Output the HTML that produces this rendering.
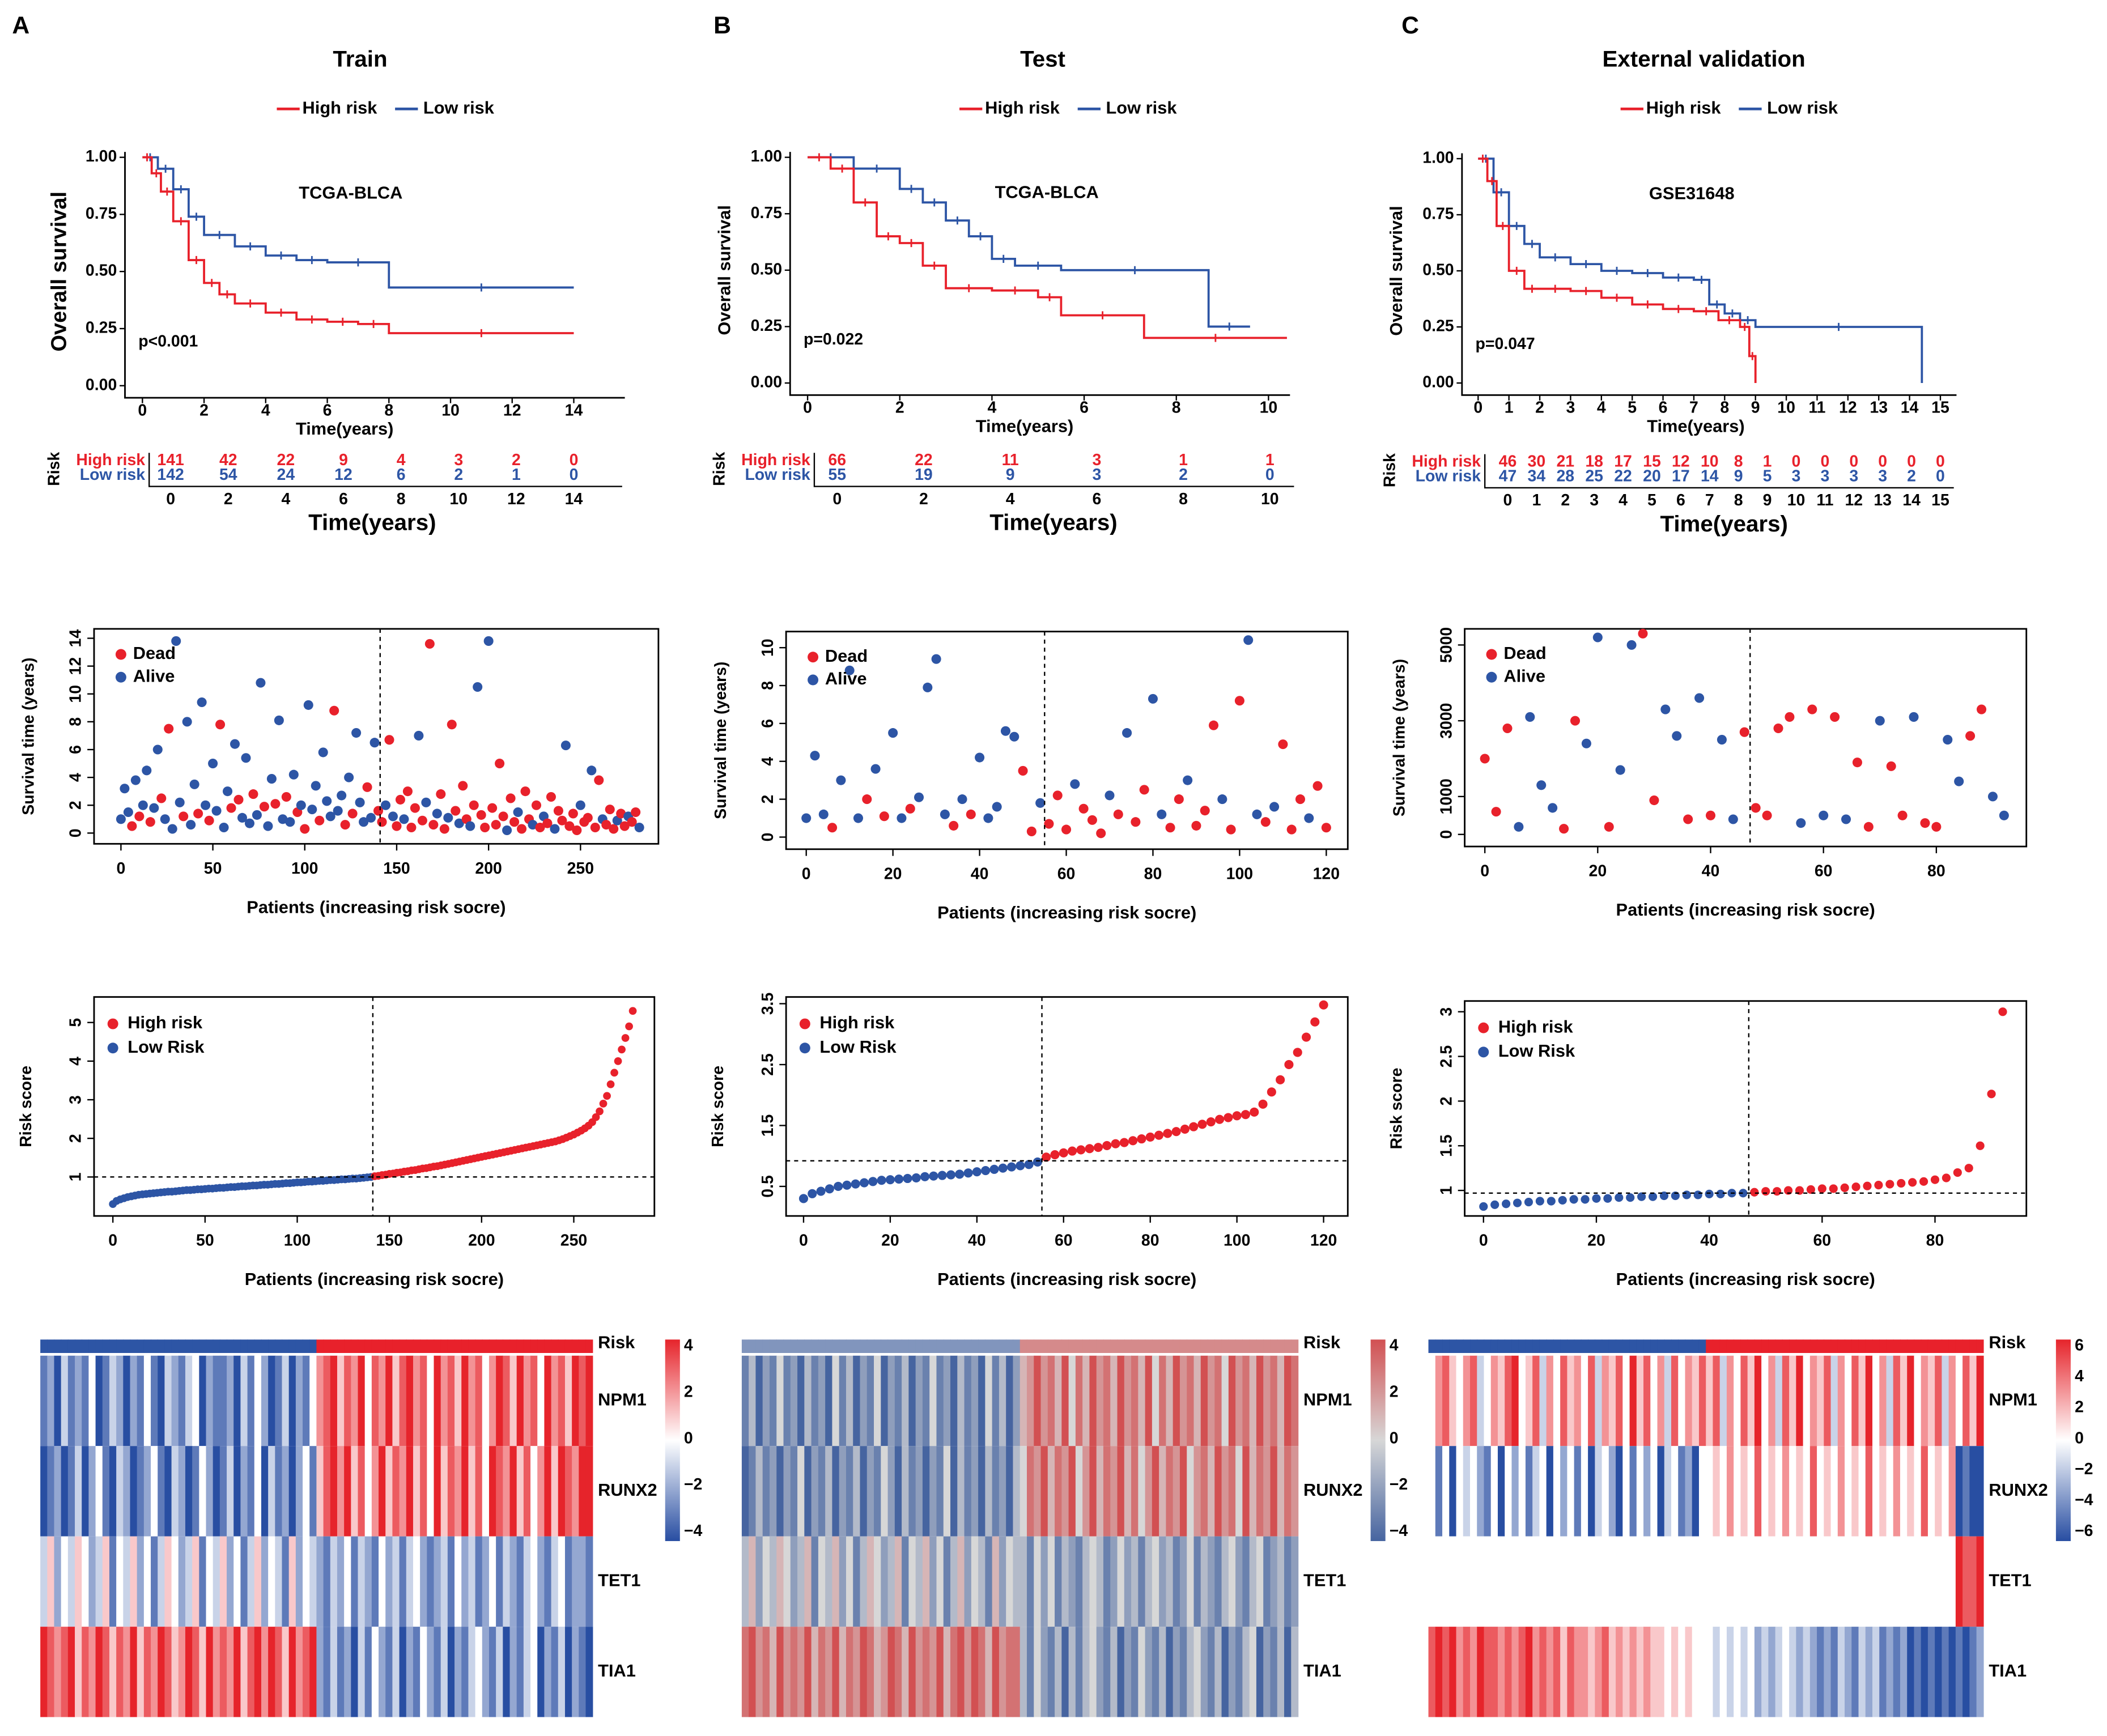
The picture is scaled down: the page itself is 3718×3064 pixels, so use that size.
<!DOCTYPE html>
<html><head><meta charset="utf-8"><style>
html,body{margin:0;padding:0;background:#fff}
svg{display:block;font-family:"Liberation Sans",Arial,sans-serif}
text{font-weight:bold}
</style></head><body>
<svg id="fig" width="3718" height="3064" viewBox="0 0 1568 1292" xmlns="http://www.w3.org/2000/svg"></svg>
<script>
// ===== DATA =====
const kmAHighT=[0,0.3,0.6,1,1.5,2,2.5,3,4,5,6,7,8,14], kmAHighS=[1,0.93,0.85,0.72,0.55,0.45,0.40,0.36,0.32,0.29,0.28,0.27,0.23,0.23];
const kmALowT=[0,0.5,1,1.5,2,3,4,5,6,8,14], kmALowS=[1,0.95,0.86,0.74,0.66,0.61,0.57,0.55,0.54,0.43,0.43];
const kmBHighT=[0,0.5,1,1.5,2,2.5,3,4,5,5.5,7.3,10.4], kmBHighS=[1,0.95,0.8,0.65,0.62,0.52,0.42,0.41,0.38,0.3,0.2,0.2];
const kmBLowT=[0,1,2,2.5,3,3.5,4,4.5,5.5,8.7,9.6], kmBLowS=[1,0.95,0.86,0.8,0.72,0.65,0.55,0.52,0.5,0.25,0.25];
const kmCHighT=[0,0.3,0.6,1,1.5,2,3,4,5,6,7,7.8,8.5,8.8,9], kmCHighS=[1,0.9,0.7,0.5,0.42,0.42,0.41,0.38,0.35,0.33,0.32,0.28,0.25,0.12,0];
const kmCLowT=[0,0.5,1,1.5,2,3,4,5,6,7,7.5,8,8.5,9,14.4], kmCLowS=[1,0.85,0.7,0.62,0.56,0.53,0.5,0.49,0.47,0.46,0.35,0.31,0.28,0.25,0];
const tabAHigh=[141,42,22,9,4,3,2,0], tabALow=[142,54,24,12,6,2,1,0];
const tabBHigh=[66,22,11,3,1,1], tabBLow=[55,19,9,3,2,0];
const tabCHigh=[46,30,21,18,17,15,12,10,8,1,0,0,0,0,0,0], tabCLow=[47,34,28,25,22,20,17,14,9,5,3,3,3,3,2,0];

const survA=[1.0,3.2,1.5,0.5,3.8,1.2,2.0,4.5,0.8,1.8,6.0,2.5,1.0,7.5,0.3,13.8,2.2,1.2,8.0,0.6,3.5,1.4,9.4,2.0,0.9,5.0,1.6,7.8,0.4,3.0,1.8,6.4,2.4,1.1,5.4,0.7,2.8,1.3,10.8,1.9,0.5,3.9,2.1,8.1,1.0,2.6,0.8,4.2,1.5,2.0,0.3,9.2,1.7,3.4,0.9,5.8,2.3,1.2,8.8,1.6,2.7,0.6,4.0,1.4,7.2,2.2,0.8,3.3,1.1,6.5,
1.6,0.8,2.0,6.7,1.2,0.5,2.4,1.0,3.0,0.4,1.8,7.0,0.9,2.2,13.6,0.6,1.4,2.8,0.3,1.1,7.8,1.6,0.7,3.4,1.0,0.5,2.0,10.5,1.3,0.4,13.8,1.8,0.6,5.0,1.2,0.2,2.5,0.8,1.5,0.3,3.0,1.0,0.6,2.0,0.4,1.2,0.7,2.6,0.3,1.6,0.9,6.3,0.5,1.4,0.2,2.0,0.8,1.1,4.5,0.4,3.8,1.0,0.6,1.7,0.3,0.9,1.4,0.5,1.2,0.8,1.5,0.4];
const statA="aaadadaadaadadaaadaaadaadaadaadadaaadaadaadaadaadadaaadaaadaadadaaadaa"+"ddadaddadddadaddaddaddaddadaddaddddaddadddaddaddaddadddaddaddadddaddadd";
const survB=[1.0,4.3,1.2,0.5,3.0,8.8,1.0,2.0,3.6,1.1,5.5,1.0,1.5,2.1,7.9,9.4,1.2,0.6,2.0,1.2,4.2,1.0,1.6,5.6,5.3,3.5,0.3,1.8,0.7,2.2,0.4,2.8,1.5,0.9,0.2,2.2,1.2,5.5,0.8,2.5,7.3,1.2,0.5,2.0,3.0,0.6,1.4,5.9,2.0,0.4,7.2,10.4,1.2,0.8,1.6,4.9,0.4,2.0,1.0,2.7,0.5];
const statB="aaadaaadadaadaaaadadaaaaaddadddadddadaddaaddadddaddaadadddadd";
const survC=[2000,600,2800,200,3100,1300,700,150,3000,2400,5200,200,1700,5000,5300,900,3300,2600,400,3600,500,2500,400,2700,700,500,2800,3100,300,3300,500,3100,400,1900,200,3000,1800,500,3100,300,200,2500,1400,2600,3300,1000,500];
const statC="dddaaaaddaadaaddaadadaadddddadadaddaddaddaadda";
const riskA=[0.30,0.38,0.42,0.45,0.48,0.5,0.52,0.54,0.55,0.56,0.57,0.58,0.59,0.6,0.61,0.62,0.62,0.63,0.64,0.65,0.66,0.66,0.67,0.68,0.68,0.69,0.70,0.70,0.71,0.72,0.72,0.73,0.74,0.74,0.75,0.76,0.76,0.77,0.78,0.78,0.79,0.80,0.80,0.81,0.82,0.82,0.83,0.84,0.84,0.85,0.86,0.86,0.87,0.88,0.88,0.89,0.90,0.90,0.91,0.92,0.92,0.93,0.94,0.94,0.95,0.96,0.96,0.97,0.98,0.99,
1.00,1.02,1.03,1.05,1.06,1.08,1.09,1.11,1.12,1.14,1.15,1.17,1.18,1.20,1.22,1.23,1.25,1.27,1.28,1.30,1.32,1.34,1.36,1.38,1.40,1.42,1.44,1.46,1.48,1.50,1.52,1.54,1.56,1.58,1.60,1.62,1.64,1.66,1.68,1.70,1.72,1.74,1.76,1.78,1.80,1.82,1.84,1.86,1.88,1.90,1.92,1.95,1.98,2.02,2.06,2.10,2.15,2.20,2.26,2.33,2.42,2.55,2.70,2.9,3.1,3.4,3.7,4.0,4.3,4.6,4.9,5.3];
const riskB=[0.30,0.38,0.42,0.46,0.50,0.52,0.54,0.56,0.58,0.60,0.61,0.62,0.63,0.64,0.66,0.67,0.68,0.69,0.70,0.72,0.74,0.76,0.78,0.80,0.82,0.84,0.86,0.90,
0.98,1.02,1.05,1.08,1.10,1.12,1.14,1.17,1.20,1.22,1.25,1.28,1.31,1.34,1.37,1.40,1.44,1.48,1.52,1.56,1.60,1.63,1.66,1.68,1.72,1.85,2.05,2.25,2.50,2.70,2.95,3.20,3.48];
const riskC=[0.82,0.84,0.85,0.86,0.87,0.88,0.88,0.89,0.90,0.90,0.91,0.91,0.92,0.92,0.93,0.93,0.94,0.94,0.95,0.95,0.96,0.96,0.97,0.97,
0.98,0.99,0.99,1.00,1.00,1.01,1.02,1.02,1.03,1.04,1.05,1.06,1.07,1.08,1.09,1.10,1.12,1.14,1.20,1.25,1.50,2.08,3.0];
// heatmap rows: digits 0..8 => -4..4
const hmA_NPM1="1203121401320214103213402112031420130214"+"6785768476857867486758674687586748675878";
const hmA_RUNX2="0120130241032012410320142013021403120241"+"5786857468576857485768574876857468587688";
const hmA_TET1="3524354235143524135423514352413524315243"+"2132413214231342123142312413213421341221";
const hmA_TIA1="8767857687576857687568758676857868758678"+"2131203142130214213021342130213402130210";
const hmB_NPM1="1302141203120413021402130214120312041302"+"5686758475867586758475867586748675867587";
const hmB_RUNX2="0131202140213021302142031202140312031203"+"4768576846857685746857684675867485768576";
const hmB_TET1="3524354235143524135423514352413524315243"+"3142413213431242313423124132134213412312";
const hmB_TIA1="7867586768576857687568758676857868758677"+"3142130313421302142130213421302134021303";
const hmC_NPM1="4675467346578457364756473657485746374657"+"5736475846375846573647584637584657364758";
const hmC_RUNX2="4140434214042413404241403420414240341204"+"4546454745464547454645474546454745460100";
const hmC_TET1="4444444444444444444444444444444444444444"+"4444444444444444444444444444444444448778";
const hmC_TIA1="7878676877676786767576656756565655454544"+"4343434232343232121321323121201010101012";

// ===== DRAW =====
const svg=document.getElementById('fig');const NS='http://www.w3.org/2000/svg';
const RED='#e8212b',BLUE='#2d55a5';
function mk(tag,attrs,parent){const e=document.createElementNS(NS,tag);for(const k in attrs)e.setAttribute(k,attrs[k]);(parent||svg).appendChild(e);return e;}
function txt(x,y,s,size,fill,anchor,rot){const e=mk('text',{x:x,y:y,'font-size':size,fill:fill||'#000','text-anchor':anchor||'middle','dominant-baseline':'middle'});if(rot)e.setAttribute('transform','rotate(-90 '+x+' '+y+')');e.textContent=s;return e;}
function lin(a,b,c,d){return v=>c+(v-a)*(d-c)/(b-a);}

function km(p){
  const X=lin(0,p.xmax,p.x0,p.x1),Y=lin(0,1,p.y0,p.y1);
  let t=txt(p.cx,45,p.title,17);
  t=txt(p.letx,20,p.letter,18,'#000','start');
  let l=mk('line',{x1:p.cx-62,x2:p.cx-45,y1:81,y2:81,stroke:RED,'stroke-width':2});
  t=txt(p.cx-43,81,'High risk',13,'#000','start');
  l=mk('line',{x1:p.cx+26,x2:p.cx+43,y1:81,y2:81,stroke:BLUE,'stroke-width':2});
  t=txt(p.cx+47,81,'Low risk',13,'#000','start');
  const ax=mk('path',{d:`M${p.lx},${Y(1)-4}V${p.by}H${X(p.xmax)+p.xext}`,fill:'none',stroke:'#000','stroke-width':1.2});
  [0,0.25,0.5,0.75,1].forEach(v=>{mk('line',{x1:p.lx-4,x2:p.lx,y1:Y(v),y2:Y(v),stroke:'#000'});t=txt(p.lx-6,Y(v),v.toFixed(2),12,'#000','end');});
  for(let v=0;v<=p.xmax;v+=p.xstep){mk('line',{x1:X(v),x2:X(v),y1:p.by,y2:p.by+4,stroke:'#000'});t=txt(X(v),p.by+10,String(v),12);}
  t=txt(p.x0+(X(p.xmax)-p.x0)/2-10,p.by+24,'Time(years)',13);
  t=txt(p.lx-48,Y(0.5),'Overall survival',p.ysz,'#000','middle',true);
  t=txt(p.lblx,Y(0.84),p.label,13);
  t=txt(p.lx+10,Y(p.pv),p.pval,12,'#000','start');
  [[p.lowT,p.lowS,BLUE,'km-curve-low'],[p.highT,p.highS,RED,'km-curve-high']].forEach(([T,S,c,n])=>{
    let d=`M${X(T[0])},${Y(S[0])}`;for(let i=1;i<T.length;i++){d+=`H${X(T[i])}V${Y(S[i])}`;}
    const e=mk('path',{d:d,fill:'none',stroke:c,'stroke-width':1.6});
    for(let i=1;i<T.length;i++){const cx=(X(T[i-1])+X(T[i]))/2,cy=Y(S[i-1]);const m=mk('path',{d:`M${cx-3},${cy}h6M${cx},${cy-3}v6`,stroke:c,'stroke-width':1.2});}
  });
  const TX=lin(0,p.xmax,p.tx0,p.tx1);
  t=txt(p.tlx-70,p.ty+6,'Risk',12,'#000','middle',true);
  t=txt(p.tlx-3,p.ty,'High risk',12,RED,'end');
  t=txt(p.tlx-3,p.ty+11,'Low risk',12,BLUE,'end');
  mk('path',{d:`M${p.tlx},${p.ty-6}V${p.ty+19}H${p.tx1+p.txext}`,fill:'none',stroke:'#000'});
  p.tabH.forEach((v,i)=>{const tt=txt(TX(i*p.xstep),p.ty,String(v),12,RED);});
  p.tabL.forEach((v,i)=>{const tt=txt(TX(i*p.xstep),p.ty+11,String(v),12,BLUE);
    const tk=txt(TX(i*p.xstep),p.ty+29,String(i*p.xstep),12);});
  t=txt((p.tx0+p.tx1)/2,p.ty+47,'Time(years)',17);
}
km({title:'Train',letter:'A',letx:9,cx:268,lx:93,x0:106,x1:427,xmax:14,xstep:2,xext:38,y0:287,y1:117,by:296,ysz:16,label:'TCGA-BLCA',lblx:261,pv:0.19,pval:'p<0.001',
  highT:kmAHighT,highS:kmAHighS,lowT:kmALowT,lowS:kmALowS,tabH:tabAHigh,tabL:tabALow,tx0:127,tx1:427,txext:36,tlx:111,ty:343});
km({title:'Test',letter:'B',letx:531,cx:776,lx:588,x0:601,x1:944,xmax:10,xstep:2,xext:16,y0:285,y1:117,by:294,ysz:13,label:'TCGA-BLCA',lblx:779,pv:0.19,pval:'p=0.022',
  highT:kmBHighT,highS:kmBHighS,lowT:kmBLowT,lowS:kmBLowS,tabH:tabBHigh,tabL:tabBLow,tx0:623,tx1:945,txext:18,tlx:606,ty:343});
km({title:'External validation',letter:'C',letx:1043,cx:1268,lx:1088,x0:1100,x1:1444,xmax:15,xstep:1,xext:12,y0:285,y1:118,by:294,ysz:13,label:'GSE31648',lblx:1259,pv:0.17,pval:'p=0.047',
  highT:kmCHighT,highS:kmCHighS,lowT:kmCLowT,lowS:kmCLowS,tabH:tabCHigh,tabL:tabCLow,tx0:1122,tx1:1444,txext:10,tlx:1105,ty:344});

function box(x0,y0,x1,y1,n){const b=mk('rect',{x:x0,y:y0,width:x1-x0,height:y1-y0,fill:'none',stroke:'#000','stroke-width':1.2});}
function scatter(p){
  const X=lin(0,p.xv,p.xa,p.xb),Y=lin(0,p.yv,p.ya,p.yb);
  box(p.bx0,p.by0,p.bx1,p.by1,'scatter-frame');
  p.xt.forEach(v=>{mk('line',{x1:X(v),x2:X(v),y1:p.by1,y2:p.by1+5,stroke:'#000'});const t=txt(X(v),p.by1+19,String(v),12);});
  p.yt.forEach(v=>{mk('line',{x1:p.bx0-5,x2:p.bx0,y1:Y(v),y2:Y(v),stroke:'#000'});const t=txt(p.bx0-13,Y(v),String(v),12,'#000','middle',true);});
  let t=txt((p.bx0+p.bx1)/2,p.by1+48,'Patients (increasing risk socre)',13);
  t=txt(p.bx0-48,(p.by0+p.by1)/2,'Survival time (years)',12,'#000','middle',true);
  p.times.forEach((v,i)=>{const d=p.stat[i]==='d';const c=mk('circle',{cx:X(i*p.step),cy:Y(v),r:3.6,fill:d?RED:BLUE});});
  const cl=mk('line',{x1:X(p.cut),x2:X(p.cut),y1:p.by0,y2:p.by1,stroke:'#000','stroke-dasharray':'3,3'});
  let c=mk('circle',{cx:p.bx0+20,cy:p.by0+19,r:4,fill:RED});
  t=txt(p.bx0+29,p.by0+19,'Dead',13,'#000','start');
  c=mk('circle',{cx:p.bx0+20,cy:p.by0+36,r:4,fill:BLUE});
  t=txt(p.bx0+29,p.by0+36,'Alive',13,'#000','start');
}
scatter({bx0:70,by0:468,bx1:490,by1:628,xv:250,xa:90,xb:432,yv:14,ya:620,yb:475,xt:[0,50,100,150,200,250],yt:[0,2,4,6,8,10,12,14],times:survA,stat:statA,step:2,cut:141});
scatter({bx0:585,by0:470,bx1:1003,by1:632,xv:120,xa:600,xb:987,yv:10,ya:623,yb:482,xt:[0,20,40,60,80,100,120],yt:[0,2,4,6,8,10],times:survB,stat:statB,step:2,cut:55});
scatter({bx0:1090,by0:468,bx1:1508,by1:630,xv:80,xa:1105,xb:1441,yv:5000,ya:621,yb:480,xt:[0,20,40,60,80],yt:[0,1000,3000,5000],times:survC,stat:statC,step:2,cut:47});

function riskplot(p){
  const X=lin(0,p.xv,p.xa,p.xb),Y=lin(p.yv0,p.yv1,p.ya,p.yb);
  box(p.bx0,p.by0,p.bx1,p.by1,'risk-frame');
  p.xt.forEach(v=>{mk('line',{x1:X(v),x2:X(v),y1:p.by1,y2:p.by1+5,stroke:'#000'});const t=txt(X(v),p.by1+19,String(v),12);});
  p.yt.forEach(v=>{mk('line',{x1:p.bx0-5,x2:p.bx0,y1:Y(v),y2:Y(v),stroke:'#000'});const t=txt(p.bx0-13,Y(v),String(v),12,'#000','middle',true);});
  let t=txt((p.bx0+p.bx1)/2,p.by1+48,'Patients (increasing risk socre)',13);
  t=txt(p.bx0-50,(p.by0+p.by1)/2,'Risk score',12,'#000','middle',true);
  p.risk.forEach((v,i)=>{const hi=i*2>=p.cut;const c=mk('circle',{cx:X(i*2),cy:Y(v),r:p.r,fill:hi?RED:BLUE});});
  let l=mk('line',{x1:X(p.cut),x2:X(p.cut),y1:p.by0,y2:p.by1,stroke:'#000','stroke-dasharray':'3,3'});
  l=mk('line',{x1:p.bx0,x2:p.bx1,y1:Y(p.hv),y2:Y(p.hv),stroke:'#000','stroke-dasharray':'3,3'});
  let c=mk('circle',{cx:p.bx0+14,cy:p.by0+20,r:4,fill:RED});
  t=txt(p.bx0+25,p.by0+20,'High risk',13,'#000','start');
  c=mk('circle',{cx:p.bx0+14,cy:p.by0+38,r:4,fill:BLUE});
  t=txt(p.bx0+25,p.by0+38,'Low Risk',13,'#000','start');
}
riskplot({bx0:70,by0:742,bx1:487,by1:905,xv:250,xa:84,xb:427,yv0:1,yv1:5,ya:876,yb:761,xt:[0,50,100,150,200,250],yt:[1,2,3,4,5],risk:riskA,cut:141,hv:1,r:2.9});
riskplot({bx0:585,by0:742,bx1:1003,by1:905,xv:120,xa:598,xb:985,yv0:0.5,yv1:3.5,ya:883,yb:747,xt:[0,20,40,60,80,100,120],yt:[0.5,1.5,2.5,3.5],risk:riskB,cut:55,hv:0.92,r:3.4});
riskplot({bx0:1090,by0:745,bx1:1508,by1:905,xv:80,xa:1104,xb:1440,yv0:1,yv1:3,ya:886,yb:753,xt:[0,20,40,60,80],yt:[1.0,1.5,2.0,2.5,3.0],risk:riskC,cut:47,hv:0.97,r:3.2});

function mix(a,b,t){return 'rgb('+a.map((v,i)=>Math.round(v+(b[i]-v)*t)).join(',')+')';}
function heat(p){
  const rows=[['NPM1',p.r[0]],['RUNX2',p.r[1]],['TET1',p.r[2]],['TIA1',p.r[3]]];
  const n=p.r[0].length,w=(p.x1-p.x0)/n,rh=(1278-1009)/4;
  const col=v=>{const t=(v-4)/4;return t<0?mix(p.mid,p.lo,-t):mix(p.mid,p.hi,t);};
  for(let i=0;i<n;i++){const r=mk('rect',{x:p.x0+i*w,y:997,width:w+0.3,height:10,fill:i<p.split?p.riskLo:p.riskHi});}
  let t=txt(p.x1+4,1000,'Risk',13,'#000','start');
  rows.forEach(([g,s],ri)=>{
    for(let i=0;i<n;i++){const r=mk('rect',{x:p.x0+i*w,y:1009+ri*rh,width:w+0.3,height:rh,fill:col(+s[i])});}
    const tt=txt(p.x1+4,1009+ri*rh+rh/2,g,13,'#000','start');
  });
  const gid='g'+p.x0;const defs=mk('defs',{});const lg=mk('linearGradient',{id:gid,x1:0,y1:0,x2:0,y2:1},defs);
  mk('stop',{offset:'0','stop-color':mix(p.mid,p.hi,1)},lg);mk('stop',{offset:'0.5','stop-color':mix(p.mid,p.mid,0)},lg);mk('stop',{offset:'1','stop-color':mix(p.mid,p.lo,1)},lg);
  const cb=mk('rect',{x:p.cbx,y:997,width:11,height:150,fill:`url(#${gid})`});
  p.cbl.forEach((s,i)=>{const yy=1002+i*(138/(p.cbl.length-1));const tt=txt(p.cbx+14,yy,s,12,'#000','start');});
}
const R=[230,36,43],B=[40,78,162],W=[255,255,255];
heat({x0:30,x1:441,r:[hmA_NPM1,hmA_RUNX2,hmA_TET1,hmA_TIA1],split:40,lo:B,hi:R,mid:W,riskLo:'#2d55a5',riskHi:'#e8212b',cbx:495,cbl:['4','2','0','\u22122','\u22124']});
heat({x0:552,x1:966,r:[hmB_NPM1,hmB_RUNX2,hmB_TET1,hmB_TIA1],split:40,lo:[70,100,160],hi:[210,80,82],mid:[215,215,215],riskLo:'#8195bd',riskHi:'#d58a8b',cbx:1020,cbl:['4','2','0','\u22122','\u22124']});
heat({x0:1063,x1:1476,r:[hmC_NPM1,hmC_RUNX2,hmC_TET1,hmC_TIA1],split:40,lo:B,hi:R,mid:W,riskLo:'#2d55a5',riskHi:'#e8212b',cbx:1530,cbl:['6','4','2','0','\u22122','\u22124','\u22126']});
</script>
</body></html>
